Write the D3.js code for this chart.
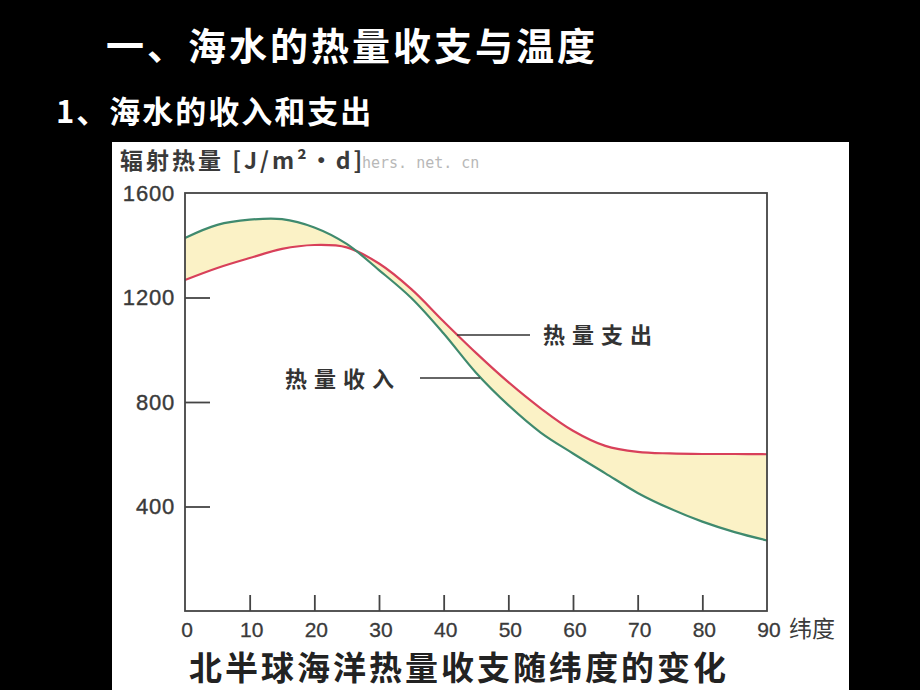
<!DOCTYPE html>
<html><head><meta charset="utf-8">
<script src="https://cdn.jsdelivr.net/npm/d3@7"></script>
<style>body{margin:0;background:#000;}svg{display:block;}</style>
</head><body>
<svg id="c" width="920" height="690"></svg>
<script>
const latitudes = [0,5,10,15,20,25,30,35,40,45,50,55,60,65,70,75,80,85,90];
const heatIncome = [1428,1478,1498,1500,1468,1405,1305,1198,1062,912,788,683,603,527,452,392,342,302,270];
const heatExpense = [1267,1313,1351,1386,1401,1392,1330,1232,1108,988,876,776,690,632,609,603,601,601,600];
const xTicks = [0,10,20,30,40,50,60,70,80,90];
const yTicks = [400,800,1200,1600];
const title = "一、海水的热量收支与温度";
const subtitle = "1、海水的收入和支出";
const yTitle = "辐射热量 [J/m²·d]";
const xUnit = "纬度";
const caption = "北半球海洋热量收支随纬度的变化";
const labelExpense = "热量支出";
const labelIncome = "热量收入";

const svg = d3.select("#c");
const cjk = "'Noto Sans CJK SC', 'Noto Sans', sans-serif";
const num = "Arial, 'Liberation Sans', sans-serif";
svg.append("rect").attr("width",920).attr("height",690).attr("fill","#000");
svg.append("text").attr("x",106).attr("y",60).attr("fill","#fff").attr("font-family",cjk)
  .attr("font-size",38).attr("font-weight","bold").attr("letter-spacing",3).text(title);
svg.append("text").attr("x",56).attr("y",123).attr("fill","#fff").attr("font-family",cjk)
  .attr("font-size",31).attr("font-weight","bold").attr("letter-spacing",2).text(subtitle);

// white panel
svg.append("rect").attr("x",112).attr("y",142).attr("width",737).attr("height",548).attr("fill","#fff");

const x = d3.scaleLinear().domain([0,90]).range([185,767]);
const y = d3.scaleLinear().domain([0,1600]).range([611,193]);

const data = latitudes.map((d,i)=>({lat:d,inc:heatIncome[i],exp:heatExpense[i]}));
const curve = d3.curveCatmullRom.alpha(0.5);

svg.append("path").datum(data)
  .attr("d", d3.area().x(d=>x(d.lat)).y0(d=>y(d.inc)).y1(d=>y(d.exp)).curve(curve))
  .attr("fill","#fbf2c6");

svg.append("path").datum(data)
  .attr("d", d3.line().x(d=>x(d.lat)).y(d=>y(d.exp)).curve(curve))
  .attr("fill","none").attr("stroke","#d8405a").attr("stroke-width",2.2);
svg.append("path").datum(data)
  .attr("d", d3.line().x(d=>x(d.lat)).y(d=>y(d.inc)).curve(curve))
  .attr("fill","none").attr("stroke","#3f8a6e").attr("stroke-width",2.2);

// frame
const axisColor = "#444";
svg.append("rect").attr("x",x(0)).attr("y",y(1600)).attr("width",x(90)-x(0)).attr("height",y(0)-y(1600))
  .attr("fill","none").attr("stroke",axisColor).attr("stroke-width",1.8);

// y axis ticks
const yAxis = d3.axisRight(y).tickValues(yTicks.filter(d=>d<1600)).tickSize(25).tickFormat("");
const gy = svg.append("g").attr("transform",`translate(${x(0)},0)`).call(yAxis);
gy.select(".domain").remove();
gy.selectAll("text").remove();
gy.selectAll("line").attr("stroke",axisColor).attr("stroke-width",1.8);
svg.append("g").selectAll("text").data(yTicks).join("text")
  .attr("x",175).attr("y",d=>y(d)).attr("dy","0.36em").attr("text-anchor","end")
  .attr("font-family",num).attr("font-size",22).attr("letter-spacing",0.8).attr("fill","#3a3a3a")
  .attr("stroke","#3a3a3a").attr("stroke-width",0.4)
  .text(d=>d);

// x axis ticks
const xAxis = d3.axisTop(x).tickValues(xTicks.filter(d=>d>0&&d<90)).tickSize(16).tickFormat("");
const gx = svg.append("g").attr("transform",`translate(0,${y(0)})`).call(xAxis);
gx.select(".domain").remove();
gx.selectAll("text").remove();
gx.selectAll("line").attr("stroke",axisColor).attr("stroke-width",1.8);
svg.append("g").selectAll("text").data(xTicks).join("text")
  .attr("x",d=>x(d)+2).attr("y",637).attr("text-anchor","middle")
  .attr("font-family",num).attr("font-size",21).attr("fill","#3a3a3a")
  .attr("stroke","#3a3a3a").attr("stroke-width",0.3)
  .text(d=>d);
svg.append("text").attr("x",x(90)+22).attr("y",637).attr("font-family",cjk).attr("font-size",23)
  .attr("fill","#3a3a3a").text(xUnit);

// y title
svg.append("text").attr("x",120).attr("y",169).attr("font-family",cjk).attr("font-size",23)
  .attr("font-weight","bold").attr("letter-spacing",3).attr("fill","#3a3a3a").text(yTitle);
svg.append("text").attr("x",362).attr("y",168).attr("font-family","'DejaVu Sans Mono', monospace").attr("font-size",15)
  .attr("fill","#b8b8b8").text("hers. net. cn");

// labels
svg.append("line").attr("x1",457).attr("x2",530).attr("y1",335).attr("y2",335).attr("stroke","#333").attr("stroke-width",1.5);
svg.append("text").attr("x",543).attr("y",343).attr("font-family",cjk).attr("font-size",22)
  .attr("font-weight","bold").attr("letter-spacing",7).attr("fill","#333").text(labelExpense);
svg.append("line").attr("x1",420).attr("x2",480).attr("y1",378).attr("y2",378).attr("stroke","#333").attr("stroke-width",1.5);
svg.append("text").attr("x",285).attr("y",387).attr("font-family",cjk).attr("font-size",22)
  .attr("font-weight","bold").attr("letter-spacing",7).attr("fill","#333").text(labelIncome);

// caption
svg.append("text").attr("x",189).attr("y",680).attr("font-family",cjk).attr("font-size",33)
  .attr("font-weight","bold").attr("letter-spacing",3).attr("fill","#222").text(caption);
</script>
</body></html>
